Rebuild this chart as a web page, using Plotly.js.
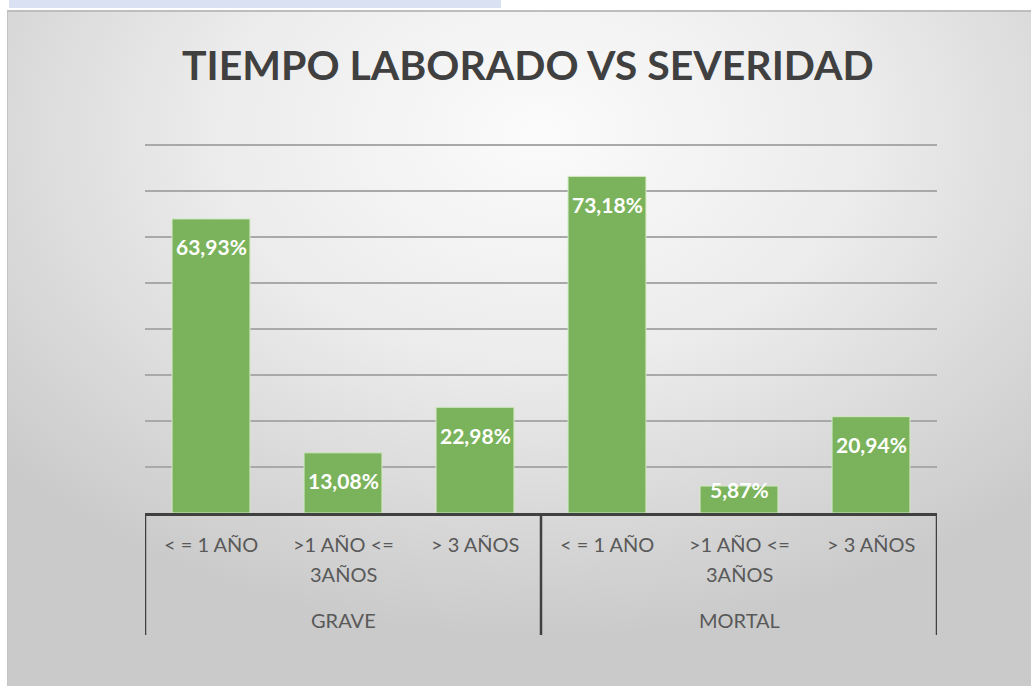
<!DOCTYPE html>
<html>
<head>
<meta charset="utf-8">
<script src="https://cdn.plot.ly/plotly-3.0.1.min.js"></script>
<style>
  html, body { margin:0; padding:0; width:1031px; height:687px; background:#ffffff; overflow:hidden; }
  #strip { position:absolute; left:9px; top:0; width:492px; height:8px; background:#dae1f3; }
  #frame { position:absolute; left:7px; top:10px; width:1024px; height:676px;
           background: radial-gradient(ellipse 70% 75% at 52% 18%, #fbfbfb 0%, #ececec 45%, #d6d6d6 80%, #cacaca 100%);
           border-top:2px solid #bdbdbd; border-left:1px solid #c4c4c4; box-sizing:border-box; }
  #chart { position:absolute; left:0; top:0; width:1031px; height:687px; }
</style>
</head>
<body>
<div id="strip"></div>
<div id="frame"></div>
<div id="chart"></div>
<script>
// ---- data ----
const groups = ["GRAVE", "MORTAL"];
const tiempo = ["< = 1 AÑO", ">1 AÑO <=<br>3AÑOS", "> 3 AÑOS"];
const grave = [63.93, 13.08, 22.98];
const mortal = [73.18, 5.87, 20.94];
const title = "TIEMPO LABORADO VS SEVERIDAD";

// ---- build ----
const seriesByGroup = [grave, mortal];
const keys = [], vals = [], catLabels = [], groupOf = [];
groups.forEach((g, gi) => {
  tiempo.forEach((t, ti) => {
    keys.push(g + " | " + t.replace("<br>", " "));
    vals.push(seriesByGroup[gi][ti]);
    catLabels.push(t);
    groupOf.push(gi);
  });
});
const fmt = v => v.toFixed(2).replace(".", ",") + "%";

const labelFont = { family: "Lato, 'Open Sans', sans-serif", size: 20, color: "#595959" };
const annotations = [];

// value labels
keys.forEach((k, i) => {
  const small = vals[i] < 10;
  annotations.push({
    x: k, y: vals[i], xref: "x", yref: "y",
    text: "<b>" + fmt(vals[i]) + "</b>", showarrow: false,
    yanchor: "middle", yshift: small ? -3 : -28,
    font: { family: "Lato, 'Open Sans', sans-serif", size: 21, color: "#ffffff" }
  });
});
// category labels (each line separately for wide line spacing)
keys.forEach((k, i) => {
  catLabels[i].split("<br>").forEach((line, li) => {
    annotations.push({
      x: k, y: 0, xref: "x", yref: "paper", text: line, showarrow: false,
      yanchor: "middle", yshift: -31 - li * 30, font: labelFont
    });
  });
});
// group labels
groups.forEach((g, gi) => {
  const idx = groupOf.map((v, i) => v === gi ? i : -1).filter(i => i >= 0);
  annotations.push({
    x: keys[idx[1]], y: 0, xref: "x", yref: "paper", text: g, showarrow: false,
    yanchor: "middle", yshift: -107, font: labelFont
  });
});

// dividers between groups (extend 122px below the axis)
const plotH = 687 - 140 - 174;
const nPer = tiempo.length;
const shapes = [];
for (let b = 0; b <= groups.length; b++) {
  shapes.push({
    type: "line", xref: "x", yref: "paper",
    x0: b * nPer - 0.5, x1: b * nPer - 0.5, y0: 0, y1: -122 / plotH,
    line: { color: "#404040", width: 2.5 }
  });
}

const trace = {
  type: "bar", x: keys, y: vals,
  marker: { color: "#7ab35b", line: { color: "#d3e8c3", width: 1 } },
  hoverinfo: "skip"
};

const layout = {
  width: 1031, height: 687,
  paper_bgcolor: "rgba(0,0,0,0)", plot_bgcolor: "rgba(0,0,0,0)",
  margin: { l: 145, r: 94, t: 140, b: 174 },
  bargap: 0.41,
  showlegend: false,
  title: {
    text: "<b>" + title + "</b>", x: 0.512, xanchor: "center",
    y: 0.905, yanchor: "middle", yref: "container",
    font: { family: "Lato, 'Open Sans', sans-serif", size: 41, color: "#404040" }
  },
  xaxis: {
    type: "category", range: [-0.5, keys.length - 0.5],
    showticklabels: false, showgrid: false, zeroline: false,
    showline: true, linecolor: "#404040", linewidth: 2.5, ticks: ""
  },
  yaxis: {
    range: [0, 81.09], tick0: 0, dtick: 10, showticklabels: false, zeroline: false,
    showgrid: true, gridcolor: "#a9a9a9", gridwidth: 1.5, showline: false, ticks: ""
  },
  annotations: annotations,
  shapes: shapes
};

Plotly.newPlot("chart", [trace], layout, { displayModeBar: false, staticPlot: true });
</script>
</body>
</html>
